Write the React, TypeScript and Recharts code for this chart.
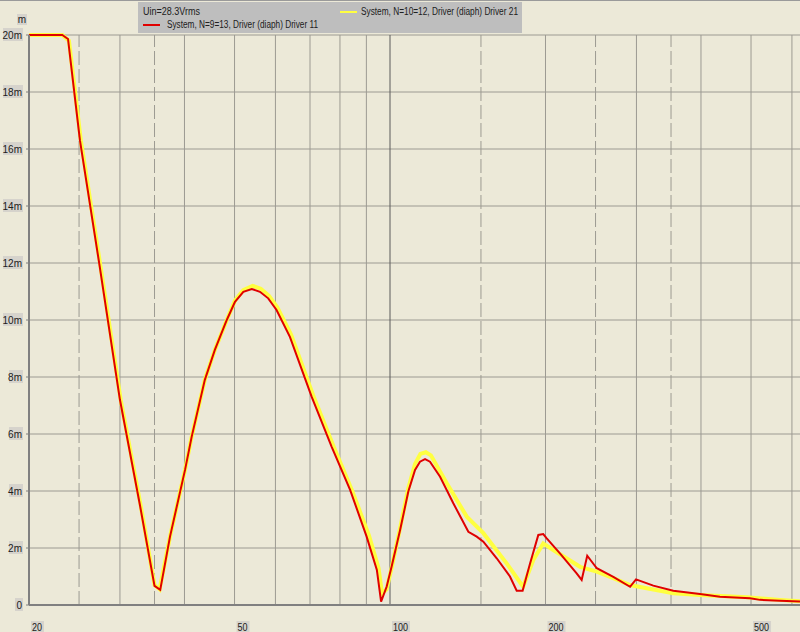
import React from 'react';
import { LineChart, Line, XAxis, YAxis, ReferenceLine } from 'recharts';

// red: System, N=9=13
const redFreq = [20, 23.2, 23.8, 25.1, 27.4, 30, 32.8, 35.0, 35.9, 37.5, 40.1, 41.3, 43.8, 45.8, 48.3, 50.1, 52, 54, 56, 58.1, 60.3, 64, 70.5, 77.1, 83.7, 90.1, 94.3, 96.1, 98.5, 100.7, 104.6, 108.5, 111.8, 114.3, 116.9, 119.5, 125, 132.6, 141.8, 147.2, 151.6, 160.9, 170.7, 175.9, 180.6, 186.7, 193.7, 198, 201.1, 213.3, 229.8, 235, 240.9, 251.4, 270.6, 291.6, 299.4, 323.4, 353.6, 398.2, 435.4, 497.8, 520.4, 568.9, 622];
const redValue = [20, 20, 19.86, 16.3, 11.9, 7.2, 3.5, 0.67, 0.53, 2.4, 4.74, 5.9, 7.9, 8.95, 10.0, 10.64, 10.99, 11.09, 10.99, 10.76, 10.35, 9.41, 7.31, 5.55, 4.04, 2.4, 1.23, 0.12, 0.64, 1.34, 2.63, 3.98, 4.74, 5.03, 5.12, 5.03, 4.5, 3.57, 2.57, 2.4, 2.22, 1.64, 1.0, 0.5, 0.5, 1.46, 2.46, 2.49, 2.34, 1.81, 1.11, 0.88, 1.73, 1.29, 0.99, 0.64, 0.9, 0.68, 0.5, 0.39, 0.29, 0.24, 0.18, 0.15, 0.12];

// yellow: System, N=10=12
const yellowFreq = [20, 23.2, 23.9, 25.2, 27.5, 30.1, 32.9, 35.0, 35.8, 37.5, 40.1, 41.3, 43.8, 45.8, 48.3, 50.1, 52, 54.2, 56.2, 58.3, 60.5, 64.3, 71, 77.8, 84.5, 91, 95, 96.5, 98.5, 100.7, 104.6, 108.5, 111.8, 114.5, 117.3, 120, 128.8, 140.8, 151.6, 168.2, 181, 189.4, 198, 207, 233.3, 251.4, 270.6, 291.6, 314, 353.6, 398.2, 490.4, 568.9, 622];
const yellowValue = [20, 20, 19.8, 16.3, 11.9, 7.2, 3.5, 0.7, 0.55, 2.4, 4.74, 5.9, 7.9, 8.95, 10.0, 10.68, 11.05, 11.2, 11.1, 10.85, 10.45, 9.5, 7.35, 5.55, 4.0, 2.45, 1.3, 0.4, 0.55, 1.3, 2.7, 4.1, 4.95, 5.3, 5.36, 5.25, 4.27, 3.1, 2.52, 1.46, 0.64, 1.58, 2.16, 1.93, 1.34, 1.17, 0.94, 0.7, 0.59, 0.41, 0.35, 0.27, 0.18, 0.13];

const xTicks = [20, 50, 100, 200, 500];
const yTicks = [0, 2, 4, 6, 8, 10, 12, 14, 16, 18, 20];
const gridFreqs = [25, 30, 35, 40, 50, 60, 70, 80, 90, 100, 150, 200, 250, 300, 350, 400, 500, 600];
const dashedFreqs = [25, 35, 150, 250, 350];

const redData = redFreq.map((f, i) => ({ f, v: redValue[i] }));
const yellowData = yellowFreq.map((f, i) => ({ f, v: yellowValue[i] }));

const BG = '#ECE9D8';
const LABEL_BG = '#D6D3CC';
const FONT = '"Liberation Sans", Arial, sans-serif';

const XTick = ({ x, y, payload }: { x?: number; y?: number; payload?: { value: number } }) => {
  if (x == null || y == null || !payload) return null;
  const s = String(payload.value);
  const w = s.length * 5 + 3;
  return (
    <g>
      <rect x={x + 2} y={y + 8} width={w} height={12} fill={LABEL_BG} />
      <text x={x + 3} y={y + 18} fontSize={10} fontFamily={FONT} fill="#202020"
        textLength={s.length * 5} lengthAdjust="spacingAndGlyphs">{s}</text>
    </g>
  );
};

const YTick = ({ x, y, payload }: { x?: number; y?: number; payload?: { value: number } }) => {
  if (x == null || y == null || !payload) return null;
  const s = payload.value === 0 ? '0' : `${payload.value}m`;
  const w = s.length * 6 + 2;
  return (
    <g>
      <rect x={x - w - 1} y={y - 7} width={w} height={13} fill={LABEL_BG} />
      <text x={x - 2} y={y + 4} textAnchor="end" fontSize={10} fontFamily={FONT} fill="#202020">{s}</text>
    </g>
  );
};

export default function App() {
  return (
    <div style={{ position: 'absolute', left: 0, top: 0, width: 800, height: 632, background: BG, overflow: 'hidden' }}>
      <div style={{ position: 'absolute', left: 0, top: 0, width: 800, height: 1, background: '#9a9a9a' }} />
      <LineChart width={800} height={632} data={redData}
        margin={{ top: 35, right: 0, bottom: 0, left: 0 }}>
        <XAxis dataKey="f" type="number" scale="log" domain={[20, 622]} allowDataOverflow
          ticks={xTicks} interval={0} height={27} tick={<XTick />}
          axisLine={{ stroke: '#808080', strokeWidth: 2 }} tickLine={false} />
        <YAxis dataKey="v" type="number" domain={[0, 20]} ticks={yTicks} interval={0} width={29}
          tick={<YTick />} tickSize={3}
          axisLine={{ stroke: '#808080', strokeWidth: 2 }} tickLine={{ stroke: '#808080' }} />
        {yTicks.filter(t => t > 0).map(t => (
          <ReferenceLine key={'h' + t} y={t} stroke="#9c9a92" strokeWidth={1} />
        ))}
        {gridFreqs.map(f => (
          <ReferenceLine key={'v' + f} x={f}
            stroke={f === 100 ? '#5a5a5a' : '#9c9a92'}
            strokeWidth={1}
            strokeDasharray={dashedFreqs.includes(f) ? '14 4' : undefined} />
        ))}
        <Line data={yellowData} dataKey="v" type="linear" stroke="#FFFF40" strokeWidth={4}
          dot={false} isAnimationActive={false} />
        <Line data={redData} dataKey="v" type="linear" stroke="#E00000" strokeWidth={2}
          dot={false} isAnimationActive={false} />
      </LineChart>
      <svg width={800} height={40} style={{ position: 'absolute', left: 0, top: 0 }}>
        <rect x={17} y={14} width={10} height={11} fill={LABEL_BG} />
        <text x={22} y={23} textAnchor="middle" fontSize={10} fontFamily={FONT} fill="#202020">m</text>
        <rect x={138} y={2} width={384} height={31} fill="#BEBEBE" />
        <text x={143} y={15} fontSize={10} fontFamily={FONT} fill="#202020"
          textLength={57} lengthAdjust="spacingAndGlyphs">Uin=28.3Vrms</text>
        <line x1={340} y1={12} x2={357} y2={12} stroke="#FFFF40" strokeWidth={2} />
        <text x={361} y={15} fontSize={10} fontFamily={FONT} fill="#202020"
          textLength={157} lengthAdjust="spacingAndGlyphs">System, N=10=12, Driver (diaph) Driver 21</text>
        <line x1={143} y1={25} x2={160} y2={25} stroke="#E00000" strokeWidth={2} />
        <text x={167} y={28} fontSize={10} fontFamily={FONT} fill="#202020"
          textLength={151} lengthAdjust="spacingAndGlyphs">System, N=9=13, Driver (diaph) Driver 11</text>
      </svg>
    </div>
  );
}
